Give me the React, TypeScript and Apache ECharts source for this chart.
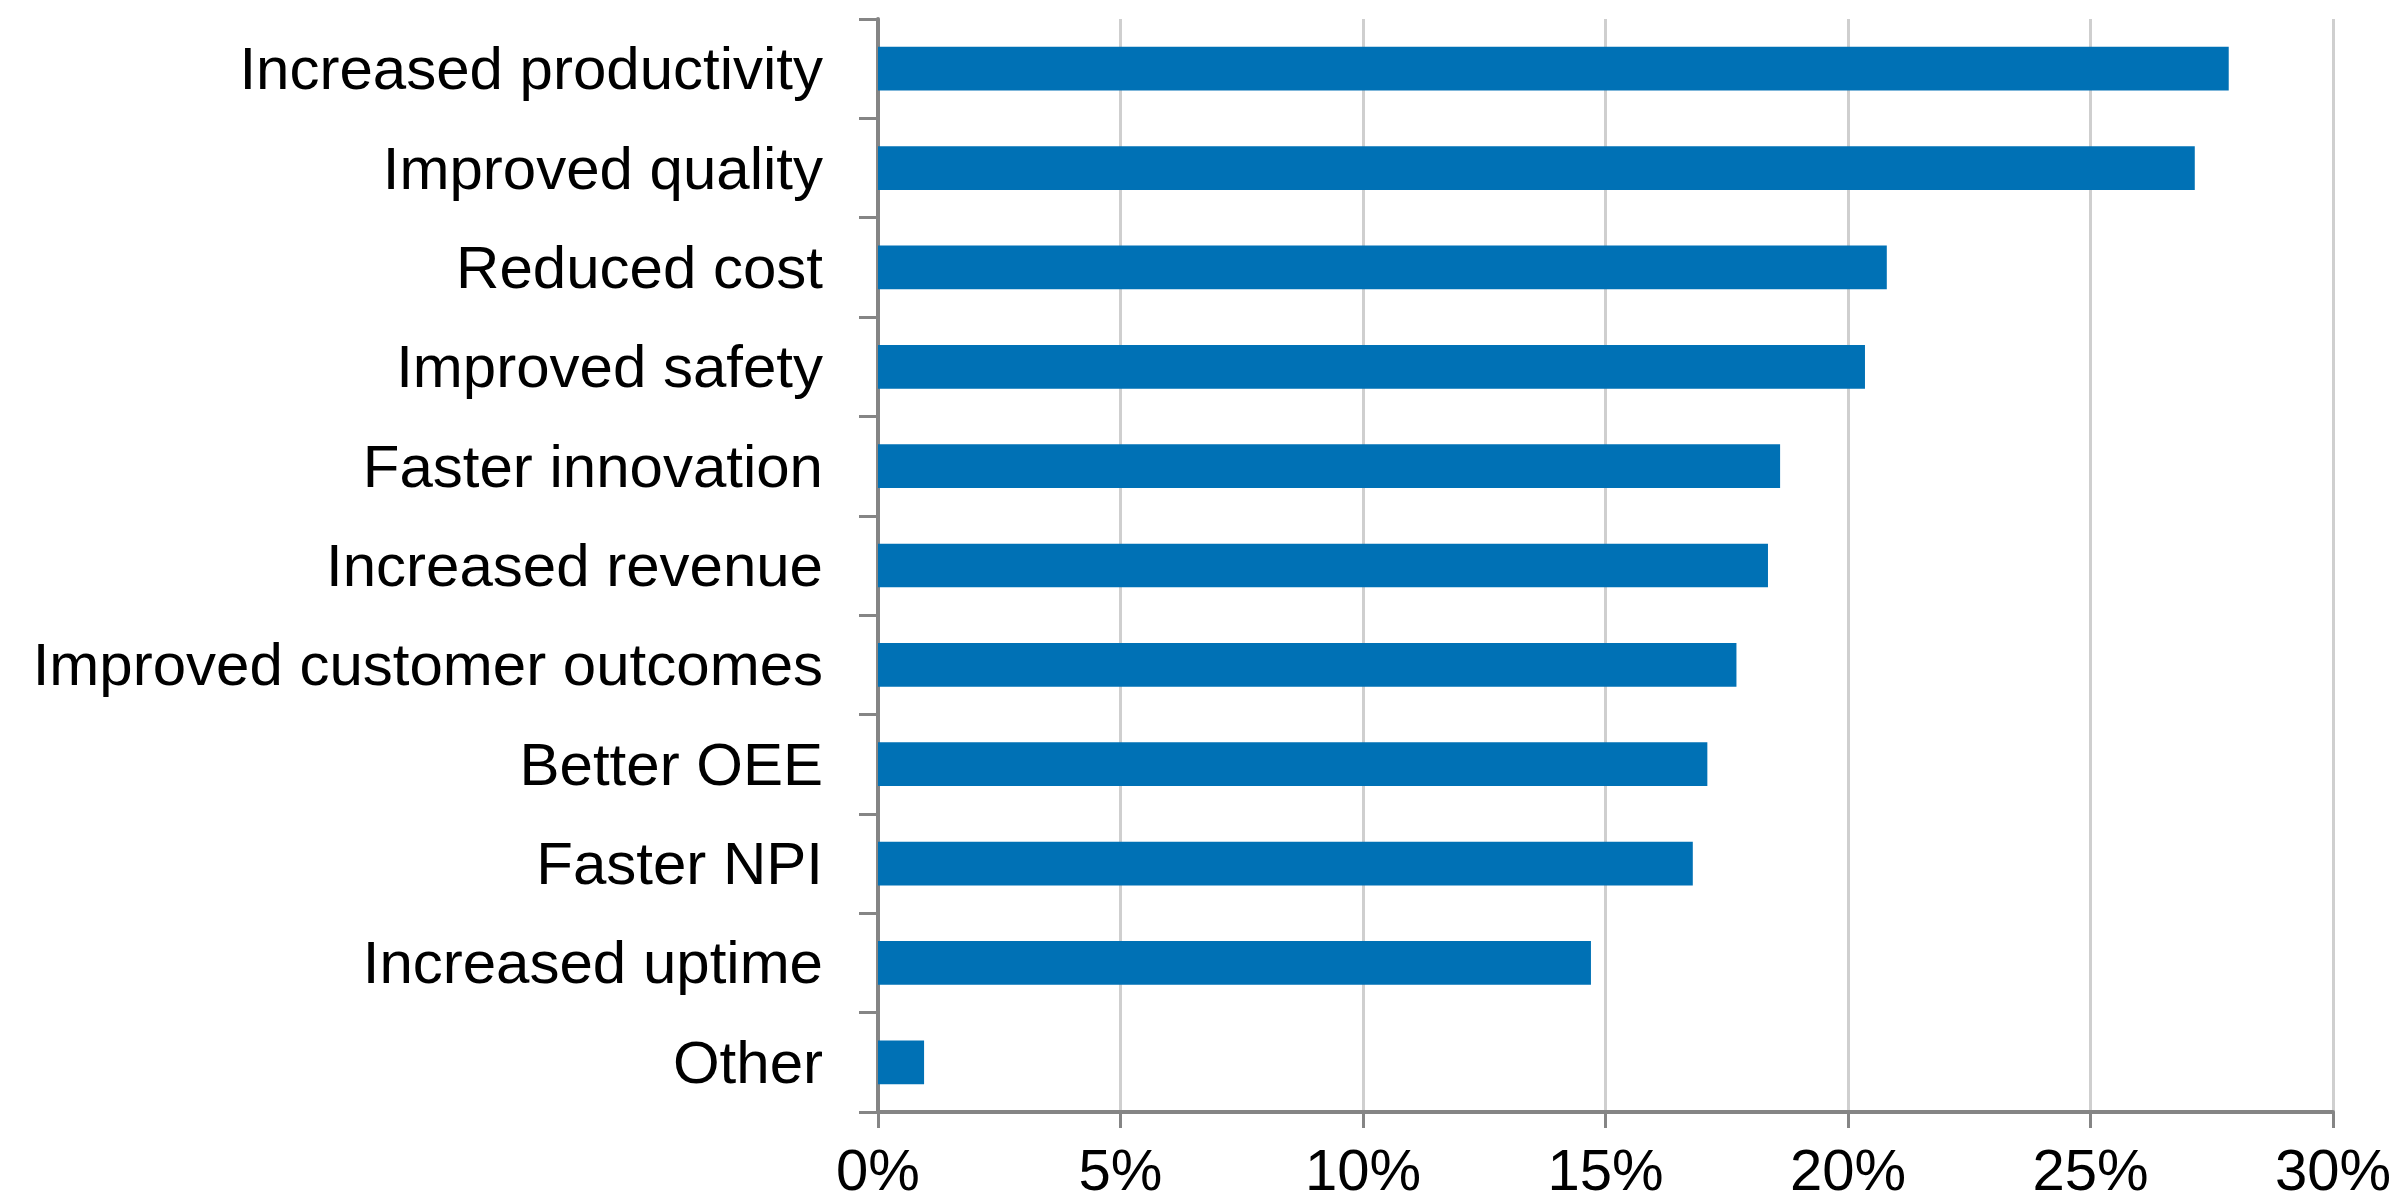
import React, { useEffect, useRef } from "react";
import * as echarts from "echarts";

const categories: string[] = [
  "Increased productivity",
  "Improved quality",
  "Reduced cost",
  "Improved safety",
  "Faster innovation",
  "Increased revenue",
  "Improved customer outcomes",
  "Better OEE",
  "Faster NPI",
  "Increased uptime",
  "Other",
];

const values: number[] = [27.85, 27.15, 20.8, 20.35, 18.6, 18.35, 17.7, 17.1, 16.8, 14.7, 0.95];

const xTicks = { min: 0, max: 30, interval: 5 };

export default function App() {
  const ref = useRef<HTMLDivElement>(null);

  useEffect(() => {
    if (!ref.current) return;
    const chart = echarts.init(ref.current, undefined, { renderer: "svg" });
    const axisGray = "#858585";
    const font = "'Liberation Sans', Arial, Helvetica, sans-serif";
    chart.setOption({
      animation: false,
      backgroundColor: "#ffffff",
      grid: { left: 878, right: 62, top: 19, bottom: 92, containLabel: false },
      xAxis: {
        type: "value",
        min: xTicks.min,
        max: xTicks.max,
        interval: xTicks.interval,
        axisLine: { show: true, onZero: false, lineStyle: { color: axisGray, width: 4 } },
        axisTick: { show: true, length: 16, lineStyle: { color: axisGray, width: 3 } },
        splitLine: { show: true, lineStyle: { color: "#cfcfcf", width: 3 } },
        axisLabel: {
          formatter: "{value}%",
          fontSize: 58,
          lineHeight: 54,
          color: "#000",
          fontFamily: font,
          margin: 30,
        },
      },
      yAxis: {
        type: "category",
        inverse: true,
        data: categories,
        axisLine: { show: true, lineStyle: { color: axisGray, width: 4 } },
        axisTick: { show: true, length: 19, lineStyle: { color: axisGray, width: 3 } },
        axisLabel: {
          fontSize: 60,
          color: "#000",
          fontFamily: font,
          margin: 55,
        },
      },
      series: [
        {
          type: "bar",
          data: values,
          barCategoryGap: "56%",
          itemStyle: { color: "#0071B5" },
        },
      ],
    });
    return () => chart.dispose();
  }, []);

  return (
    <div
      ref={ref}
      style={{ position: "absolute", left: 0, top: 0, width: 2395, height: 1204 }}
    />
  );
}
